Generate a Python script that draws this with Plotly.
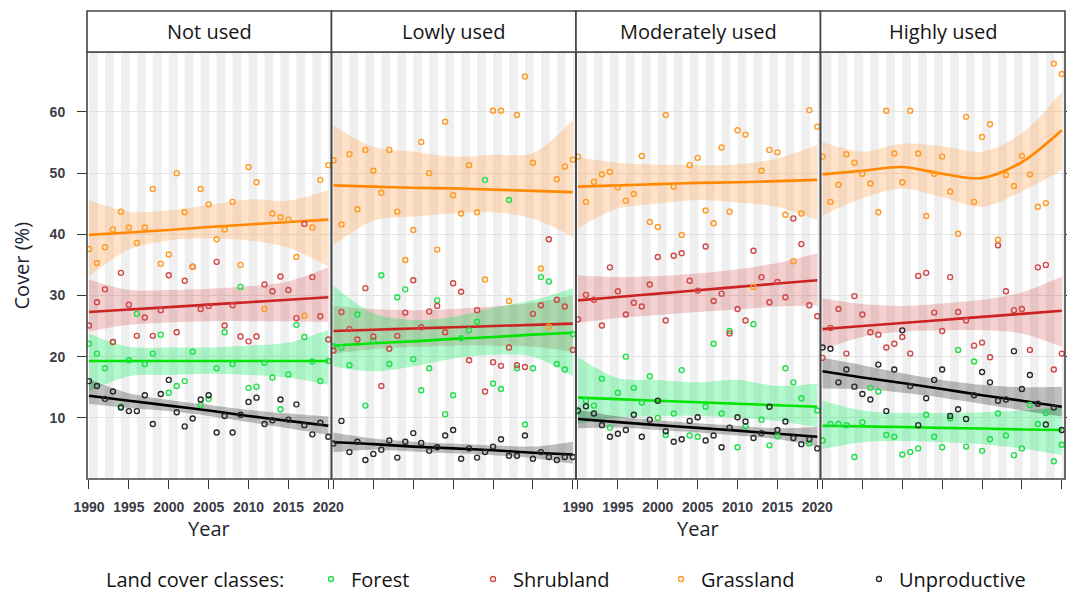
import plotly.graph_objects as go

# ---------------- data ----------------
years = list(range(1990, 2021))
fit_years = [1990, 1995, 2000, 2005, 2010, 2015, 2020]
tick_years = [1990, 1995, 2000, 2005, 2010, 2015, 2020]
stripe_years = list(range(1990, 2021, 2))
y_ticks = [10, 20, 30, 40, 50, 60]
panels = ["Not used", "Lowly used", "Moderately used", "Highly used"]
classes = ["Forest", "Shrubland", "Grassland", "Unproductive"]

# observed points (cover %), 1990..2020
forest_not_used = [22.1, 20.5, 18.1, 22.4, 11.8, 19.4, 27.0, 18.8, 20.5, 23.6, 14.1, 15.2, 16.0, 20.8, 12.1, 13.1,
                   18.1, 24.0, 18.8, 31.4, 14.9, 15.1, 19.0, 16.6, 11.4, 17.1, 25.2, 23.2, 19.2, 16.0, 19.3]
shrub_not_used = [25.1, 28.9, 31.0, 22.4, 33.7, 28.5, 23.4, 26.4, 23.4, 27.6, 33.3, 24.0, 32.4, 34.7, 27.8, 28.3,
                  35.5, 25.1, 28.4, 23.3, 22.5, 23.3, 31.8, 30.7, 33.1, 30.9, 26.3, 41.7, 33.0, 26.6, 22.8]
grass_not_used = [37.6, 35.3, 37.9, 40.8, 43.7, 41.1, 38.6, 41.1, 47.4, 35.2, 36.7, 50.0, 43.6, 34.7, 47.4, 44.9,
                  39.2, 40.8, 45.3, 35.0, 51.0, 48.5, 27.8, 43.4, 42.8, 42.4, 36.3, 26.7, 41.1, 48.9, 51.3]
unprod_not_used = [16.0, 15.2, 13.1, 14.3, 11.7, 11.1, 11.1, 13.7, 9.0, 13.9, 16.2, 10.9, 8.6, 9.9, 13.0, 13.7,
                   7.6, 10.3, 7.6, 10.5, 12.6, 13.3, 9.0, 9.6, 13.0, 9.7, 12.2, 8.8, 7.3, 9.2, 6.9]

forest_lowly = [21.7, 21.5, 18.6, 26.9, 12.0, 22.6, 33.3, 18.8, 29.7, 31.0, 19.6, 14.5, 18.1, 29.2, 10.6, 13.7,
                23.0, 24.3, 25.7, 48.9, 15.6, 14.7, 45.6, 18.1, 8.9, 18.1, 33.0, 32.3, 18.8, 17.9, 23.7]
shrub_lowly = [21.0, 27.3, 24.5, 22.8, 31.2, 23.3, 15.2, 21.3, 23.4, 27.2, 32.5, 24.8, 27.4, 28.3, 24.0, 32.0,
               30.6, 19.4, 27.6, 14.3, 19.1, 18.5, 21.5, 18.6, 18.3, 27.0, 28.4, 39.2, 29.3, 28.2, 21.1]
grass_lowly = [52.1, 41.6, 53.1, 44.1, 53.8, 50.4, 46.8, 53.8, 43.7, 35.8, 40.7, 55.1, 50.0, 37.5, 58.4, 46.4,
               43.4, 51.3, 43.6, 32.6, 60.2, 60.2, 29.1, 59.5, 65.8, 51.7, 34.4, 24.9, 49.0, 51.1, 52.2]
unprod_lowly = [5.8, 9.5, 4.4, 6.1, 3.1, 4.1, 4.8, 6.3, 3.5, 6.1, 7.5, 5.9, 4.6, 5.2, 7.1, 8.0,
                3.3, 5.0, 3.5, 4.4, 5.3, 6.5, 3.8, 3.8, 7.1, 3.3, 4.4, 3.6, 3.1, 3.6, 3.6]

forest_moderately = [11.0, 12.8, 12.0, 16.4, 8.4, 14.1, 20.0, 14.9, 12.5, 16.8, 10.0, 7.2, 10.7, 17.8, 7.1, 6.9,
                     11.8, 22.1, 10.7, 24.2, 5.2, 8.6, 25.3, 9.7, 5.5, 7.0, 18.1, 15.8, 13.2, 5.8, 11.2]
shrub_moderately = [26.1, 30.1, 29.3, 25.1, 34.6, 30.7, 26.9, 28.8, 28.2, 31.8, 36.3, 25.9, 36.5, 36.9, 32.4, 30.8,
                    38.0, 29.1, 30.3, 23.8, 27.8, 25.9, 37.3, 33.0, 28.9, 32.2, 29.7, 42.6, 38.4, 28.4, 26.6]
grass_moderately = [52.7, 45.3, 48.6, 49.8, 50.2, 47.7, 45.5, 46.6, 52.8, 42.0, 41.2, 59.5, 47.8, 39.9, 51.3, 52.5,
                    43.9, 41.8, 54.2, 43.7, 57.0, 56.3, 31.4, 50.4, 53.8, 53.4, 43.2, 35.6, 43.4, 60.3, 57.6]
unprod_moderately = [11.2, 11.9, 10.7, 8.8, 6.9, 7.4, 8.0, 10.5, 6.9, 9.7, 12.8, 7.8, 6.1, 6.5, 9.5, 10.1,
                     6.3, 7.1, 5.2, 8.4, 10.1, 9.4, 6.7, 7.5, 11.8, 8.0, 9.4, 6.7, 5.7, 6.5, 5.0]

forest_highly = [6.3, 9.0, 9.0, 8.8, 3.6, 9.3, 14.9, 14.3, 7.2, 6.9, 4.0, 4.4, 5.0, 10.5, 6.9, 5.2,
                 9.9, 21.1, 5.3, 19.2, 4.6, 6.5, 10.7, 7.1, 3.9, 5.0, 12.1, 9.0, 10.8, 2.9, 5.6]
shrub_highly = [19.8, 24.7, 27.8, 20.5, 29.9, 26.9, 24.0, 23.6, 21.5, 22.1, 23.2, 20.5, 33.2, 33.7, 27.2, 24.2,
                33.0, 27.3, 25.9, 21.8, 22.3, 19.9, 38.2, 30.7, 27.6, 27.8, 21.1, 34.6, 35.0, 17.9, 20.5]
grass_highly = [52.7, 45.3, 48.1, 53.1, 51.7, 49.9, 48.3, 43.6, 60.2, 53.2, 48.5, 60.2, 53.2, 43.0, 49.9, 52.7,
                47.0, 40.1, 59.2, 45.3, 55.9, 58.0, 39.1, 49.7, 47.9, 52.8, 49.8, 44.5, 45.1, 67.9, 66.2]
unprod_highly = [21.5, 21.3, 15.8, 17.9, 15.1, 13.9, 13.0, 18.7, 11.1, 17.9, 24.3, 15.2, 8.8, 13.2, 16.2, 17.9,
                 10.3, 11.4, 9.8, 13.7, 17.5, 15.8, 12.8, 13.0, 20.9, 14.7, 17.0, 12.3, 8.9, 11.7, 8.0]

# smoothed trends (fit) and confidence bands, read at fit_years
forest_not_used_fit = [19.3, 19.3, 19.3, 19.3, 19.3, 19.3, 19.3]
forest_not_used_hi = [23.8, 21.6, 21.5, 21.5, 21.8, 22.3, 24.4]
forest_not_used_lo = [14.3, 16.8, 17.0, 17.2, 17.0, 16.6, 15.4]
shrub_not_used_fit = [27.3, 27.7, 28.1, 28.5, 28.9, 29.3, 29.7]
shrub_not_used_hi = [32.6, 30.9, 30.9, 31.1, 31.5, 32.3, 34.6]
shrub_not_used_lo = [24.1, 25.2, 25.6, 25.8, 25.8, 25.8, 25.7]
grass_not_used_fit = [39.9, 40.3, 40.7, 41.2, 41.6, 42.0, 42.4]
grass_not_used_hi = [45.6, 43.7, 43.9, 44.8, 45.7, 45.5, 47.2]
grass_not_used_lo = [33.1, 37.5, 39.0, 39.3, 39.0, 37.8, 34.7]
unprod_not_used_fit = [13.6, 12.8, 12.0, 11.2, 10.3, 9.5, 8.7]
unprod_not_used_hi = [16.3, 14.0, 12.9, 12.1, 11.3, 10.7, 10.2]
unprod_not_used_lo = [12.3, 11.6, 11.1, 10.3, 9.3, 8.3, 7.2]

forest_lowly_fit = [21.8, 22.2, 22.5, 22.9, 23.2, 23.6, 23.9]
forest_lowly_hi = [31.6, 27.1, 26.0, 26.5, 28.0, 29.2, 31.2]
forest_lowly_lo = [18.4, 17.6, 18.4, 19.7, 20.3, 20.0, 16.8]
shrub_lowly_fit = [24.2, 24.4, 24.6, 24.8, 25.0, 25.2, 25.4]
shrub_lowly_hi = [28.3, 27.8, 27.6, 27.8, 28.2, 28.8, 30.0]
shrub_lowly_lo = [20.5, 21.2, 21.6, 21.8, 21.8, 21.6, 20.8]
grass_lowly_fit = [48.0, 47.8, 47.6, 47.5, 47.3, 47.1, 46.9]
grass_lowly_hi = [57.8, 54.3, 53.5, 52.7, 53.0, 53.3, 58.7]
grass_lowly_lo = [38.2, 42.2, 42.9, 43.4, 43.6, 42.6, 39.6]
unprod_lowly_fit = [6.0, 5.7, 5.3, 5.0, 4.7, 4.3, 4.0]
unprod_lowly_hi = [7.6, 6.6, 6.1, 5.8, 5.5, 5.3, 6.1]
unprod_lowly_lo = [4.4, 4.8, 4.5, 4.2, 3.9, 3.4, 2.5]

forest_moderately_fit = [13.3, 13.05, 12.8, 12.55, 12.3, 12.05, 11.8]
forest_moderately_hi = [19.9, 16.5, 16.2, 15.8, 16.2, 15.2, 15.6]
forest_moderately_lo = [9.0, 10.0, 10.3, 10.3, 10.0, 9.5, 8.5]
shrub_moderately_fit = [29.2, 29.75, 30.3, 30.85, 31.4, 31.95, 32.5]
shrub_moderately_hi = [33.3, 33.0, 33.2, 33.6, 34.3, 35.3, 36.9]
shrub_moderately_lo = [25.5, 26.3, 26.8, 27.3, 27.7, 28.2, 28.4]
grass_moderately_fit = [47.8, 48.0, 48.2, 48.4, 48.5, 48.7, 48.9]
grass_moderately_hi = [52.6, 51.7, 51.4, 51.3, 51.4, 52.4, 54.6]
grass_moderately_lo = [41.0, 44.2, 45.0, 45.6, 45.2, 44.5, 42.3]
unprod_moderately_fit = [9.8, 9.3, 8.8, 8.35, 7.9, 7.4, 6.9]
unprod_moderately_hi = [11.3, 10.2, 9.6, 9.1, 8.7, 8.3, 8.5]
unprod_moderately_lo = [8.3, 8.4, 8.0, 7.6, 7.1, 6.5, 5.3]

forest_highly_fit = [8.7, 8.6, 8.5, 8.35, 8.25, 8.1, 8.0]
forest_highly_hi = [12.8, 11.2, 10.8, 10.8, 10.9, 11.2, 11.8]
forest_highly_lo = [4.9, 6.0, 6.2, 6.0, 5.7, 5.0, 3.9]
shrub_highly_fit = [24.5, 25.0, 25.5, 26.0, 26.5, 27.0, 27.5]
shrub_highly_hi = [29.5, 28.6, 28.3, 28.7, 29.3, 30.5, 33.1]
shrub_highly_lo = [21.1, 23.2, 24.1, 24.3, 24.3, 23.8, 21.6]
grass_highly_fit = [49.8, 50.4, 51.0, 49.9, 49.2, 51.8, 57.0]
grass_highly_hi = [55.1, 53.5, 54.8, 54.4, 53.5, 56.5, 63.3]
grass_highly_lo = [43.1, 45.9, 47.5, 46.1, 44.5, 47.0, 50.5]
unprod_highly_fit = [17.6, 16.6, 15.7, 14.7, 13.7, 12.8, 11.8]
unprod_highly_hi = [19.8, 18.6, 17.3, 16.2, 15.4, 15.0, 15.1]
unprod_highly_lo = [14.8, 14.7, 14.1, 13.3, 12.3, 11.2, 10.2]

# ---------------- assemble tables ----------------
points = [
    [forest_not_used, shrub_not_used, grass_not_used, unprod_not_used],
    [forest_lowly, shrub_lowly, grass_lowly, unprod_lowly],
    [forest_moderately, shrub_moderately, grass_moderately, unprod_moderately],
    [forest_highly, shrub_highly, grass_highly, unprod_highly],
]
fits = [
    [forest_not_used_fit, shrub_not_used_fit, grass_not_used_fit, unprod_not_used_fit],
    [forest_lowly_fit, shrub_lowly_fit, grass_lowly_fit, unprod_lowly_fit],
    [forest_moderately_fit, shrub_moderately_fit, grass_moderately_fit, unprod_moderately_fit],
    [forest_highly_fit, shrub_highly_fit, grass_highly_fit, unprod_highly_fit],
]
his = [
    [forest_not_used_hi, shrub_not_used_hi, grass_not_used_hi, unprod_not_used_hi],
    [forest_lowly_hi, shrub_lowly_hi, grass_lowly_hi, unprod_lowly_hi],
    [forest_moderately_hi, shrub_moderately_hi, grass_moderately_hi, unprod_moderately_hi],
    [forest_highly_hi, shrub_highly_hi, grass_highly_hi, unprod_highly_hi],
]
los = [
    [forest_not_used_lo, shrub_not_used_lo, grass_not_used_lo, unprod_not_used_lo],
    [forest_lowly_lo, shrub_lowly_lo, grass_lowly_lo, unprod_lowly_lo],
    [forest_moderately_lo, shrub_moderately_lo, grass_moderately_lo, unprod_moderately_lo],
    [forest_highly_lo, shrub_highly_lo, grass_highly_lo, unprod_highly_lo],
]

marker_colors = ["#1fe04a", "#d04848", "#ff9a22", "#2a2a2a"]
line_colors = ["#00e400", "#cc2222", "#ff8800", "#000000"]
band_colors = ["rgba(0,235,90,0.30)", "rgba(205,40,40,0.22)", "rgba(255,160,70,0.30)", "rgba(0,0,0,0.25)"]
legend_widths = [117, 143, 153, None]

FONT = "Open Sans"
TICKFONT = dict(family="Liberation Sans", size=14, color="#3c3c48", weight="bold")

fig = go.Figure()

band_order = [2, 1, 0, 3]  # grassland, shrubland, forest, unproductive
for p in range(4):
    xa = "x" if p == 0 else f"x{p+1}"
    ya = "y" if p == 0 else f"y{p+1}"
    for c in band_order:
        fig.add_trace(go.Scatter(x=fit_years, y=his[p][c], xaxis=xa, yaxis=ya, mode="lines",
                                 line=dict(width=0, shape="spline", smoothing=0.9),
                                 showlegend=False, hoverinfo="skip"))
        fig.add_trace(go.Scatter(x=fit_years, y=los[p][c], xaxis=xa, yaxis=ya, mode="lines",
                                 line=dict(width=0, shape="spline", smoothing=0.9),
                                 fill="tonexty", fillcolor=band_colors[c],
                                 showlegend=False, hoverinfo="skip"))
    for c in band_order:
        fig.add_trace(go.Scatter(x=fit_years, y=fits[p][c], xaxis=xa, yaxis=ya, mode="lines",
                                 line=dict(width=2.6, color=line_colors[c], shape="spline", smoothing=0.9),
                                 showlegend=False, hoverinfo="skip"))
    for c in range(4):
        tr = go.Scatter(x=years, y=points[p][c], xaxis=xa, yaxis=ya, mode="markers",
                        marker=dict(symbol="circle-open", size=5,
                                    color=marker_colors[c], line=dict(width=1.4, color=marker_colors[c])),
                        name=classes[c], legendgroup=classes[c],
                        showlegend=(p == 0))
        if p == 0 and legend_widths[c]:
            tr.legendwidth = legend_widths[c]
        fig.add_trace(tr)

shapes = []
annotations = []
layout_axes = {}
for p in range(4):
    xname = "xaxis" if p == 0 else f"xaxis{p+1}"
    yname = "yaxis" if p == 0 else f"yaxis{p+1}"
    xa = "x" if p == 0 else f"x{p+1}"
    ya = "y" if p == 0 else f"y{p+1}"
    layout_axes[xname] = dict(
        domain=[p / 4, (p + 1) / 4], anchor=ya, range=[1989.75, 2020.4], automargin=False,
        tickvals=tick_years, ticks="outside", ticklen=9, tickwidth=1.3, tickcolor="#333333",
        showticklabels=(p in (0, 2)), tickfont=TICKFONT, ticklabelstandoff=6,
        showgrid=False, zeroline=False, showline=False,
    )
    ydict = dict(
        domain=[0, 1], anchor=xa, range=[0, 69.8], tickvals=y_ticks, automargin=False,
        showgrid=True, gridcolor="#e2e2e2", gridwidth=1, zeroline=False, showline=False,
        showticklabels=(p == 0), tickfont=TICKFONT, ticklabelstandoff=9,
        ticks="outside" if p in (0, 3) else "", ticklen=9, tickwidth=1.3, tickcolor="#333333",
    )
    if p > 0:
        ydict["matches"] = "y"
    if p == 3:
        ydict["side"] = "right"
    layout_axes[yname] = ydict

    # vertical stripes
    for s in stripe_years:
        shapes.append(dict(type="rect", xref=xa, yref=f"{ya} domain", x0=s, x1=s + 1.1, y0=0, y1=1,
                           fillcolor="#efefef", line=dict(width=0), layer="below"))
    # panel frame
    shapes.append(dict(type="rect", xref=f"{xa} domain", yref=f"{ya} domain", x0=0, x1=1, y0=0, y1=1,
                       line=dict(color="#444444", width=1.6), fillcolor="rgba(0,0,0,0)", layer="above"))
    # strip
    shapes.append(dict(type="rect", xref=f"{xa} domain", yref="paper", x0=0, x1=1, y0=1, y1=1 + 41 / 427,
                       line=dict(color="#444444", width=1.6), fillcolor="white", layer="above"))
    annotations.append(dict(text=panels[p], xref=f"{xa} domain", yref="paper", x=0.5, y=1 + 20 / 427,
                            xanchor="center", yanchor="middle", showarrow=False,
                            font=dict(family=FONT, size=20, color="#141414")))
    if p in (0, 2):
        annotations.append(dict(text="Year", xref=f"{xa} domain", yref="paper", x=0.5, y=(479 - 528) / 427,
                                xanchor="center", yanchor="middle", showarrow=False,
                                font=dict(family=FONT, size=20, color="#1b1f2a")))

annotations.append(dict(text="Cover (%)", xref="paper", yref="paper", x=(21 - 87) / 978, y=0.5,
                        xanchor="center", yanchor="middle", textangle=-90, showarrow=False,
                        font=dict(family=FONT, size=20, color="#1b2433")))
annotations.append(dict(text="Land cover classes:", xref="paper", yref="paper", x=(104 - 87) / 978,
                        y=(479 - 579) / 427, xanchor="left", yanchor="middle", showarrow=False,
                        font=dict(family=FONT, size=20, color="#141414")))

fig.update_layout(
    width=1067, height=595,
    margin=dict(l=87, r=2, t=52, b=116, pad=0, autoexpand=False),
    paper_bgcolor="white", plot_bgcolor="white",
    shapes=shapes, annotations=annotations,
    showlegend=True,
    legend=dict(orientation="h", x=(311 - 87) / 978, xanchor="left", y=(479 - 579) / 427, yanchor="middle",
                font=dict(family=FONT, size=20, color="#141414"), bgcolor="rgba(0,0,0,0)",
                traceorder="normal"),
    **layout_axes,
)

fig.write_html("out.html")
